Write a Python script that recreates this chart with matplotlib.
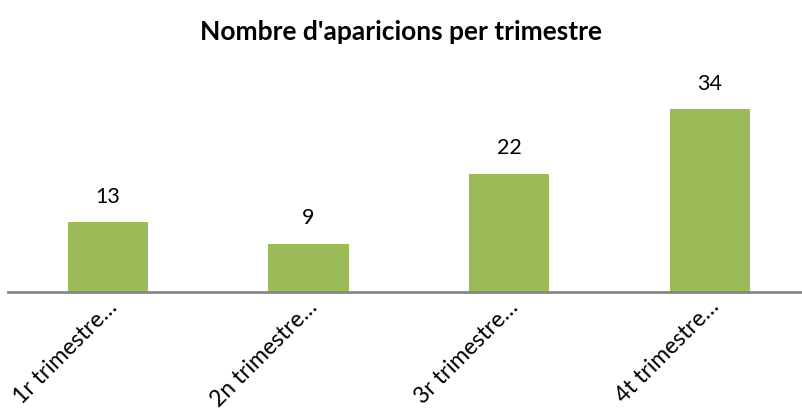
import matplotlib.pyplot as plt
from matplotlib.transforms import ScaledTranslation

categories = ["1r trimestre…", "2n trimestre…", "3r trimestre…", "4t trimestre…"]
values = [13, 9, 22, 34]

plt.rcParams['font.family'] = ['Lato', 'DejaVu Sans']

fig = plt.figure(figsize=(8.02, 4.16), dpi=100)
ax = fig.add_axes([7.7 / 802, (416 - 292) / 416, 802.4 / 802, 215 / 416])

x = range(len(categories))
bars = ax.bar(x, values, width=0.4, color='#9BBB59')
ax.set_xlim(-0.5, 3.5)
ax.set_ylim(0, 40)

for b, v in zip(bars, values):
    ax.annotate(str(v), (b.get_x() + b.get_width() / 2, v), xytext=(0, 11),
                textcoords='offset points', ha='center', va='bottom', fontsize=15.5)

for s in ['top', 'right', 'left']:
    ax.spines[s].set_visible(False)
ax.spines['bottom'].set_color('#868686')
ax.spines['bottom'].set_linewidth(2)
ax.set_yticks([])
ax.set_xticks(list(x))
ax.set_xticklabels(categories, rotation=45, ha='right', rotation_mode='anchor',
                   fontsize=16.5)
ax.tick_params(axis='x', length=0, pad=3)
offset = ScaledTranslation(-0.02, 0, fig.dpi_scale_trans)
for lbl in ax.get_xticklabels():
    lbl.set_transform(lbl.get_transform() + offset)

fig.text(0.5, 1 - 32 / 416, "Nombre d'aparicions per trimestre", ha='center', va='center',
         fontsize=19, fontweight='bold')

fig.savefig('out.png', dpi=100)
